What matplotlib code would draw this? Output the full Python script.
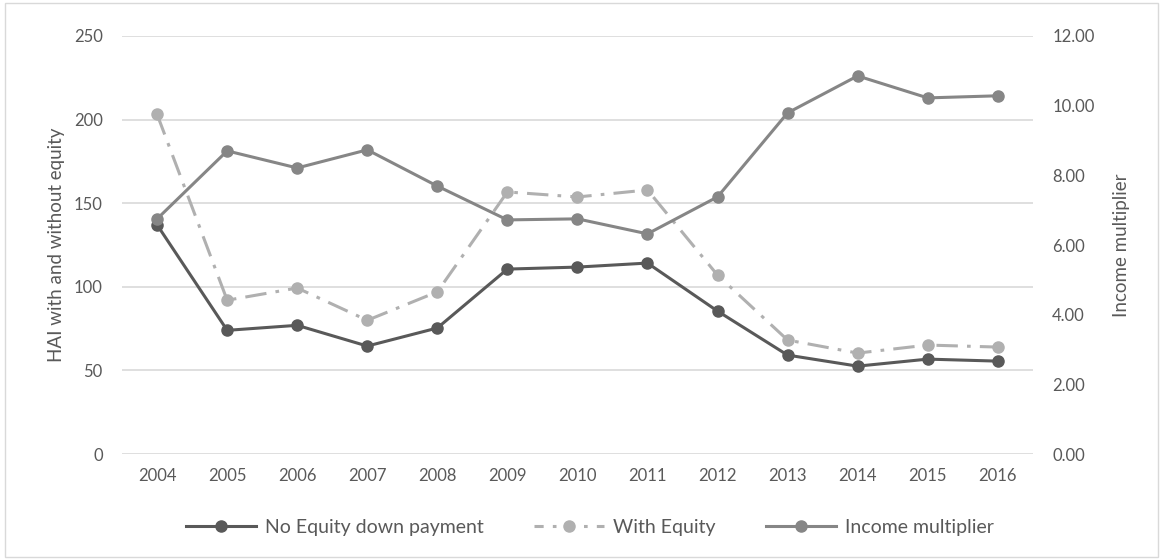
import matplotlib
matplotlib.use('Agg')
import matplotlib.pyplot as plt
from matplotlib.lines import Line2D
from matplotlib.patches import Rectangle

# Data
years = ['2004', '2005', '2006', '2007', '2008', '2009', '2010',
         '2011', '2012', '2013', '2014', '2015', '2016']
no_equity = [137, 74, 77, 64.6, 75.4, 110.6, 111.8, 114.2, 85.5, 59.2, 52.6, 56.8, 55.6]
with_equity = [203, 92, 99.3, 80, 97, 156.7, 153.7, 157.9, 107, 68.2, 60.4, 65.2, 64]
income_mult = [6.75, 8.70, 8.21, 8.73, 7.69, 6.72, 6.75, 6.32, 7.38, 9.79, 10.85, 10.22, 10.28]

left_ticks = [0, 50, 100, 150, 200, 250]
right_ticks = [0, 2, 4, 6, 8, 10, 12]

plt.rcParams['font.family'] = ['Lato', 'DejaVu Sans']
text_col = '#595959'
c_no = '#595959'
c_with = '#B0B0B0'
c_inc = '#868686'

fig = plt.figure(figsize=(11.63, 5.6), dpi=100)
ax = fig.add_axes([0.105, 0.189, 0.783, 0.747])
ax2 = ax.twinx()

x = list(range(len(years)))

ax.plot(x, no_equity, color=c_no, linewidth=2.2, marker='o', markersize=8,
        label='No Equity down payment', zorder=3)
ax.plot(x, with_equity, color=c_with, linewidth=2.2, marker='o', markersize=8,
        dashes=(7, 3, 1.2, 3), label='With Equity', zorder=3)
ax2.plot(x, income_mult, color=c_inc, linewidth=2.2, marker='o', markersize=8,
         label='Income multiplier', zorder=3)

ax.set_xlim(-0.5, len(years) - 0.5)
ax.set_ylim(0, 250)
ax2.set_ylim(0, 12)
ax.set_yticks(left_ticks)
ax2.set_yticks(right_ticks)
ax2.set_yticklabels([f'{v:.2f}' for v in right_ticks])
ax.set_xticks(x)
ax.set_xticklabels(years)

ax.grid(axis='y', color='#D9D9D9', linewidth=1.2)
ax.set_axisbelow(True)
for a in (ax, ax2):
    for s in a.spines.values():
        s.set_visible(False)
    a.tick_params(length=0, labelsize=12, colors=text_col)
ax.tick_params(axis='y', pad=14)
ax2.tick_params(axis='y', pad=14)
ax.tick_params(axis='x', pad=10)

ax.set_ylabel('HAI with and without equity', fontsize=13.5, color=text_col, labelpad=6)
ax2.set_ylabel('Income multiplier', fontsize=13.5, color=text_col, labelpad=13)

handles = [
    Line2D([], [], color=c_no, linewidth=2.2, marker='o', markersize=8),
    Line2D([], [], color=c_with, linewidth=2.2, marker='o', markersize=8, dashes=(3, 3, 1.2, 3)),
    Line2D([], [], color=c_inc, linewidth=2.2, marker='o', markersize=8),
]
labels = ['No Equity down payment', 'With Equity', 'Income multiplier']
fig.legend(handles, labels, loc='center', bbox_to_anchor=(0.507, 0.058), ncol=3,
           frameon=False, fontsize=14, labelcolor=text_col, handlelength=3.6,
           columnspacing=2.6, handletextpad=0.45)

fig.patches.append(Rectangle((0.004, 0.006), 0.992, 0.988, transform=fig.transFigure,
                             fill=False, edgecolor='#D9D9D9', linewidth=1))

fig.savefig('out.png', dpi=100)
